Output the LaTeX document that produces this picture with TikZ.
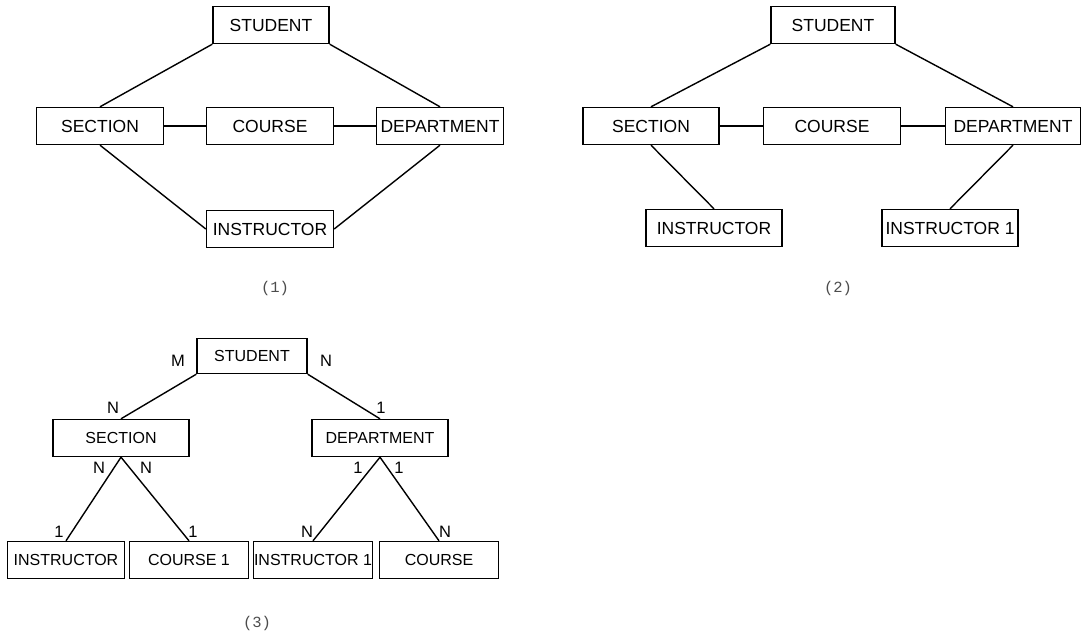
\documentclass[tikz,border=0pt]{standalone}
\usepackage{fontspec}
\setmainfont{Liberation Sans}
\newfontfamily\capfont{Liberation Mono}
\usepackage{tikz}

\tikzset{
  entity/.style={draw, line width=1.4pt, inner sep=0pt, minimum height=37pt,
    font=\fontsize{17.5}{20}\selectfont},
  small/.style={font=\fontsize{16}{18}\selectfont},
  link/.style={line width=1.4pt},
  card/.style={inner sep=0pt, font=\fontsize{16.5}{18}\selectfont},
  caption/.style={font=\capfont\fontsize{15.5}{17}\selectfont, text=black!70}
}

\begin{document}
\begin{tikzpicture}[x=1pt, y=-1pt]
        \useasboundingbox (0,0) rectangle (1088,634);
        % (1) all entities in one cycle
        \node[entity, minimum width=116pt] (stA) at (271,25) {STUDENT};
        \node[entity, minimum width=127pt] (secA) at (100,126) {SECTION};
        \node[entity, minimum width=127pt] (crsA) at (270,126) {COURSE};
        \node[entity, minimum width=127pt] (depA) at (440,126) {DEPARTMENT};
        \node[entity, minimum width=127pt] (insA) at (270,229) {INSTRUCTOR};
        \draw[link] (stA.south west) -- (secA.north);
        \draw[link] (stA.south east) -- (depA.north);
        \draw[link] (secA) -- (crsA);
        \draw[link] (crsA) -- (depA);
        \draw[link] (secA.south) -- (insA.west);
        \draw[link] (depA.south) -- (insA.east);
        \node[caption] (capA) at (275,288) {(1)};
        % (2) instructor split in two
        \node[entity, minimum width=124pt] (stB) at (833,25) {STUDENT};
        \node[entity, minimum width=136pt] (secB) at (651,126) {SECTION};
        \node[entity, minimum width=137pt] (crsB) at (832,126) {COURSE};
        \node[entity, minimum width=135pt] (depB) at (1013,126) {DEPARTMENT};
        \node[entity, minimum width=136pt] (insB) at (714,228) {INSTRUCTOR};
        \node[entity, minimum width=136pt] (insB1) at (950,228) {INSTRUCTOR 1};
        \draw[link] (stB.south west) -- (secB.north);
        \draw[link] (stB.south east) -- (depB.north);
        \draw[link] (secB) -- (crsB);
        \draw[link] (crsB) -- (depB);
        \draw[link] (secB.south) -- (insB.north);
        \draw[link] (depB.south) -- (insB1.north);
        \node[caption] (capB) at (838,288) {(2)};
        % (3) tree with cardinalities
        \node[entity, small, minimum width=110pt, minimum height=35pt] (stC) at (252,356) {STUDENT};
        \node[entity, small, minimum width=136pt] (secC) at (121,438) {SECTION};
        \node[entity, small, minimum width=136pt] (depC) at (380,438) {DEPARTMENT};
        \node[entity, small, minimum width=117pt] (insC) at (66,560) {INSTRUCTOR};
        \node[entity, small, minimum width=119pt] (crsC1) at (189,560) {COURSE 1};
        \node[entity, small, minimum width=119pt] (insC1) at (313,560) {INSTRUCTOR 1};
        \node[entity, small, minimum width=119pt] (crsC) at (439,560) {COURSE};
        \draw[link] (stC.south west) -- (secC.north);
        \draw[link] (stC.south east) -- (depC.north);
        \draw[link] (secC.south) -- (insC.north);
        \draw[link] (secC.south) -- (crsC1.north);
        \draw[link] (depC.south) -- (insC1.north);
        \draw[link] (depC.south) -- (crsC.north);
        % Cardinalities
        \node[card] (cM) at (178,361) {M};
        \node[card] (cN) at (326,361) {N};
        \node[card] (cSecTop) at (113,408) {N};
        \node[card] (cDepTop) at (381,408) {1};
        \node[card] (cSecL) at (99,468) {N};
        \node[card] (cSecR) at (146,468) {N};
        \node[card] (cDepL) at (358,468) {1};
        \node[card] (cDepR) at (399,468) {1};
        \node[card] (cIns) at (59,532) {1};
        \node[card] (cCrs1) at (193,532) {1};
        \node[card] (cIns1) at (307,532) {N};
        \node[card] (cCrs) at (445,532) {N};
        \node[caption] (capC) at (257,623) {(3)};
      \end{tikzpicture}
\end{document}
